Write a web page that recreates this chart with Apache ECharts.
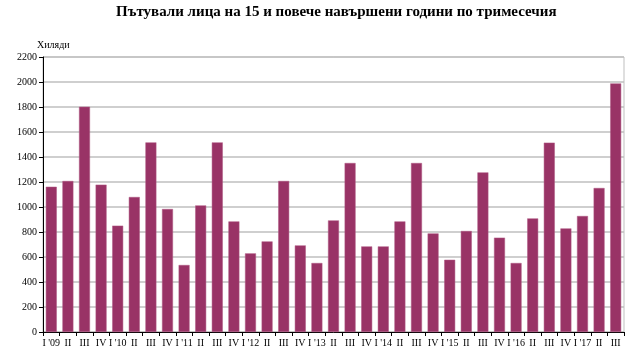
<!DOCTYPE html>
<html>
<head>
<meta charset="utf-8">
<script src="https://cdn.jsdelivr.net/npm/echarts@6/dist/echarts.min.js"></script>
<style>
  body { margin: 0; background: #fff; }
  #chart { width: 635px; height: 352px; }
</style>
</head>
<body>
<div id="chart"></div>
<script>
// тримесечия
const quarters = [
  "I '09", 'II', 'III', 'IV', "I '10", 'II', 'III', 'IV', "I '11", 'II', 'III', 'IV',
  "I '12", 'II', 'III', 'IV', "I '13", 'II', 'III', 'IV', "I '14", 'II', 'III', 'IV',
  "I '15", 'II', 'III', 'IV', "I '16", 'II', 'III', 'IV', "I '17", 'II', 'III'
];
// пътували лица, хиляди
const travellers = [
  1162, 1208, 1802, 1179, 851, 1080, 1517, 984, 536, 1013, 1517, 885,
  629, 725, 1208, 693, 552, 893, 1352, 685, 685, 885, 1352, 789,
  578, 808, 1277, 755, 552, 909, 1515, 829, 928, 1152, 1989
];
const yTicks = { min: 0, max: 2200, step: 200 };

const serif = 'Liberation Serif';
const chart = echarts.init(document.getElementById('chart'));
chart.setOption({
  animation: false,
  title: {
    text: 'Пътували лица на 15 и повече навършени години по тримесечия',
    left: 111,
    top: 0,
    textStyle: { fontFamily: serif, fontSize: 15, fontWeight: 'bold', color: '#000' }
  },
  grid: {
    left: 43, right: 11, top: 57, bottom: 20,
    show: true, borderColor: '#bfbfbf', borderWidth: 1
  },
  xAxis: {
    type: 'category',
    data: quarters,
    axisLine: { lineStyle: { color: '#000', width: 1 } },
    axisTick: { show: true, length: 4, lineStyle: { color: '#000' } },
    axisLabel: { interval: 0, margin: 6, fontFamily: serif, fontSize: 10, color: '#000' }
  },
  yAxis: {
    type: 'value',
    min: yTicks.min,
    max: yTicks.max,
    interval: yTicks.step,
    name: 'Хиляди',
    nameGap: 7,
    nameTextStyle: { fontFamily: serif, fontSize: 10, color: '#000', align: 'left', padding: [0, 0, 0, -6] },
    axisLine: { show: true, lineStyle: { color: '#000', width: 1 } },
    axisTick: { show: true, length: 4, lineStyle: { color: '#000' } },
    axisLabel: { margin: 6, fontFamily: serif, fontSize: 10, color: '#000', formatter: v => String(v) },
    splitLine: { lineStyle: { color: '#bfbfbf', width: 1.5 } }
  },
  series: [{
    type: 'bar',
    data: travellers,
    barCategoryGap: '34%',
    itemStyle: { color: '#993366', borderColor: '#b05a85', borderWidth: 0.5 }
  }]
});
</script>
</body>
</html>
